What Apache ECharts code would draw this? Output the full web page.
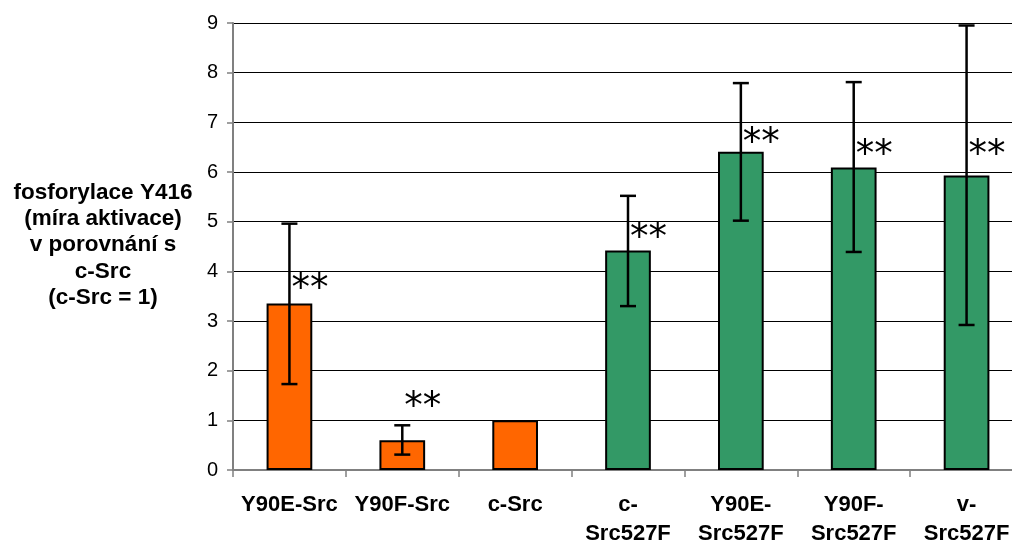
<!DOCTYPE html>
<html>
<head>
<meta charset="utf-8">
<script src="https://cdn.jsdelivr.net/npm/echarts@6/dist/echarts.min.js"></script>
<style>
html,body{margin:0;padding:0;background:#fff;}
#chart{width:1012px;height:543px;}
</style>
</head>
<body>
<div id="chart"></div>
<script>
const categories = ['Y90E-Src', 'Y90F-Src', 'c-Src', 'c-Src527F', 'Y90E-Src527F', 'Y90F-Src527F', 'v-Src527F'];
const values = [3.35, 0.60, 1.00, 4.42, 6.41, 6.09, 5.93];
const errLow = [1.73, 0.31, null, 3.30, 5.02, 4.39, 2.92];
const errHigh = [4.96, 0.90, null, 5.52, 7.79, 7.81, 8.95];
const starLabels = ['**', '**', '', '**', '**', '**', '**'];
const starY = [3.77, 1.41, null, 4.80, 6.71, 6.47, 6.47];
const groupOf = ['orange', 'orange', 'orange', 'green', 'green', 'green', 'green'];
const yTicks = [0, 1, 2, 3, 4, 5, 6, 7, 8, 9];
const yTitleLines = ['fosforylace Y416', '(míra aktivace)', 'v porovnání s', 'c-Src', '(c-Src = 1)'];

const colors = { orange: '#FF6600', green: '#339966' };
const FONT = '"Liberation Sans", Arial, sans-serif';

const errData = [];
categories.forEach((c, i) => { if (errLow[i] != null) errData.push([i, errLow[i], errHigh[i]]); });
const starData = [];
categories.forEach((c, i) => { if (starY[i] != null) starData.push([i, starY[i], starLabels[i]]); });

const chart = echarts.init(document.getElementById('chart'));
chart.setOption({
  animation: false,
  grid: { left: 233, width: 790, top: 23, height: 447, containLabel: false, outerBoundsMode: 'none' },
  xAxis: {
    type: 'category',
    data: categories,
    boundaryGap: true,
    axisLine: { lineStyle: { color: '#808080', width: 2 } },
    axisTick: { show: true, length: 7, lineStyle: { color: '#808080', width: 1.5 } },
    axisLabel: {
      color: '#000', fontFamily: FONT, fontWeight: 'bold', fontSize: 22, margin: 21, lineHeight: 28.5,
      interval: 0,
      formatter: v => v.replace(/-(Src527F)$/, '-\n$1')
    },
    splitLine: { show: false }
  },
  yAxis: {
    type: 'value',
    min: yTicks[0], max: yTicks[yTicks.length - 1], interval: 1,
    axisLine: { show: true, lineStyle: { color: '#808080', width: 2 } },
    axisTick: { show: true, length: 6, lineStyle: { color: '#808080', width: 1.5 } },
    axisLabel: { color: '#000', fontFamily: FONT, fontSize: 20, margin: 15 },
    splitLine: { show: true, lineStyle: { color: '#000', width: 1 } }
  },
  graphic: [{
    type: 'text', x: 103, y: 245,
    style: {
      text: yTitleLines.join('\n'), textAlign: 'center', textVerticalAlign: 'middle',
      font: 'bold 22.5px ' + FONT, lineHeight: 26.3, fill: '#000'
    }
  }],
  series: [
    {
      type: 'bar',
      barWidth: '40.5%',
      data: values.map((v, i) => ({ value: v, itemStyle: { color: colors[groupOf[i]] } })),
      itemStyle: { borderColor: '#000', borderWidth: 2 },
      z: 2
    },
    {
      type: 'custom',
      data: errData,
      z: 5,
      renderItem: (params, api) => {
        const x = api.value(0);
        const pLow = api.coord([x, api.value(1)]);
        const pHigh = api.coord([x, api.value(2)]);
        const hw = 8;
        const st = { stroke: '#000', lineWidth: 2.5 };
        return {
          type: 'group',
          children: [
            { type: 'line', shape: { x1: pLow[0], y1: pLow[1], x2: pHigh[0], y2: pHigh[1] }, style: st },
            { type: 'line', shape: { x1: pHigh[0] - hw, y1: pHigh[1], x2: pHigh[0] + hw, y2: pHigh[1] }, style: st },
            { type: 'line', shape: { x1: pLow[0] - hw, y1: pLow[1], x2: pLow[0] + hw, y2: pLow[1] }, style: st }
          ]
        };
      }
    },
    {
      type: 'custom',
      data: starData,
      z: 6,
      renderItem: (params, api) => {
        const i = params.dataIndex;
        const p = api.coord([api.value(0), api.value(1)]);
        return {
          type: 'text',
          x: p[0] + 2, y: p[1] + 8,
          style: {
            text: starData[i][2], textAlign: 'left', textVerticalAlign: 'middle',
            font: '37px "DejaVu Sans"', fill: '#000'
          }
        };
      }
    }
  ]
});
</script>
</body>
</html>
